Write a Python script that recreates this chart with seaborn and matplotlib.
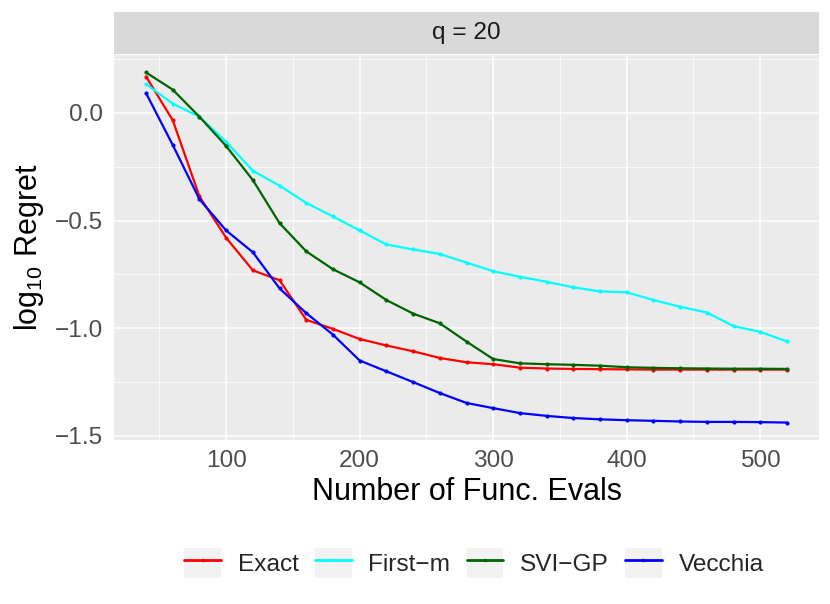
import numpy as np
import pandas as pd
import seaborn as sns
import matplotlib.pyplot as plt
from matplotlib.ticker import MultipleLocator
from matplotlib.patches import Rectangle
from matplotlib.lines import Line2D
from matplotlib.legend_handler import HandlerTuple

# %%
evals = list(range(40, 521, 20))

exact = [0.169, -0.034, -0.388, -0.580, -0.731, -0.777, -0.961, -1.003, -1.050,
         -1.080, -1.107, -1.138, -1.158, -1.167, -1.183, -1.187, -1.189, -1.190,
         -1.191, -1.192, -1.192, -1.192, -1.192, -1.192, -1.192]
first_m = [0.134, 0.043, -0.018, -0.134, -0.269, -0.338, -0.418, -0.481, -0.546,
           -0.611, -0.634, -0.655, -0.695, -0.735, -0.761, -0.784, -0.810, -0.829,
           -0.833, -0.869, -0.900, -0.927, -0.990, -1.017, -1.061]
svi_gp = [0.188, 0.108, -0.018, -0.154, -0.312, -0.512, -0.643, -0.726, -0.787,
          -0.869, -0.932, -0.977, -1.062, -1.143, -1.163, -1.167, -1.170, -1.174,
          -1.181, -1.184, -1.186, -1.187, -1.188, -1.188, -1.189]
vecchia = [0.092, -0.149, -0.401, -0.546, -0.647, -0.815, -0.930, -1.030, -1.150,
           -1.200, -1.250, -1.301, -1.347, -1.371, -1.394, -1.407, -1.417, -1.423,
           -1.427, -1.430, -1.433, -1.435, -1.435, -1.436, -1.438]

methods = ["Exact", "First\u2212m", "SVI\u2212GP", "Vecchia"]
colors = {"Exact": "#FF0000", "First\u2212m": "#00FFFF",
          "SVI\u2212GP": "#006400", "Vecchia": "#0000FF"}

xticks = [100, 200, 300, 400, 500]
yticks = [0.0, -0.5, -1.0, -1.5]
ytick_labels = ["0.0", "\u22120.5", "\u22121.0", "\u22121.5"]

df = pd.DataFrame({
    "evals": evals * 4,
    "regret": exact + first_m + svi_gp + vecchia,
    "method": [m for m in methods for _ in evals],
})

# %%
sns.set_theme(style="white")
plt.rcParams["font.family"] = ["Liberation Sans", "DejaVu Sans"]
plt.rcParams["mathtext.fontset"] = "custom"
plt.rcParams["mathtext.rm"] = "Liberation Sans"
plt.rcParams["mathtext.default"] = "regular"

small = 17.6
big = 22

fig = plt.figure(figsize=(8.3, 6.04), dpi=100)
W, H = 830, 604
ax = fig.add_axes([114 / W, 1 - 440 / H, 705 / W, 385 / H])
strip = fig.add_axes([114 / W, 1 - 54 / H, 705 / W, 42 / H])

ax.set_facecolor("#EBEBEB")
ax.set_axisbelow(True)
ax.xaxis.set_minor_locator(MultipleLocator(50))
ax.yaxis.set_minor_locator(MultipleLocator(0.25))
ax.grid(which="major", color="white", lw=1.1)
ax.grid(which="minor", color="white", lw=0.55)

sns.lineplot(data=df, x="evals", y="regret", hue="method", hue_order=methods,
             palette=colors, marker="o", markersize=3, markeredgewidth=0,
             lw=1.6, legend=False, ax=ax)

ax.set_xlim(16, 544)
ax.set_ylim(-1.519, 0.269)
ax.set_xticks(xticks)
ax.set_xticklabels([str(t) for t in xticks])
ax.set_yticks(yticks)
ax.set_yticklabels(ytick_labels)
for s in ax.spines.values():
    s.set_visible(False)
ax.tick_params(which="major", direction="out", length=4, width=1.1,
               color="#333333", labelcolor="#4D4D4D", labelsize=small)
ax.tick_params(axis="x", pad=3)
ax.tick_params(axis="y", pad=4)
ax.tick_params(which="minor", length=0)
ax.set_xlabel("Number of Func. Evals", fontsize=big, color="black", labelpad=4)
ax.set_ylabel("log$_{10}$ Regret", fontsize=big, color="black", labelpad=6)

strip.set_facecolor("#D9D9D9")
strip.set_xticks([])
strip.set_yticks([])
for s in strip.spines.values():
    s.set_visible(False)
strip.text(0.5, 0.5, "q = 20", ha="center", va="center", fontsize=small,
           color="#1A1A1A", transform=strip.transAxes)

handles = [(Rectangle((0, 0), 1, 1, facecolor="#F2F2F2", edgecolor="none"),
            Line2D([], [], color=colors[m], lw=2, marker="o", markersize=2.5,
                   markeredgewidth=0))
           for m in methods]
fig.legend(handles, methods, handler_map={tuple: HandlerTuple(ndivide=1)},
           loc="center", bbox_to_anchor=(474 / W, 1 - 563 / H), ncol=4,
           frameon=False, fontsize=small, handlelength=1.5, handleheight=1.47,
           handletextpad=0.68, columnspacing=0.67, borderaxespad=0)

fig.savefig("out.png", dpi=100)
